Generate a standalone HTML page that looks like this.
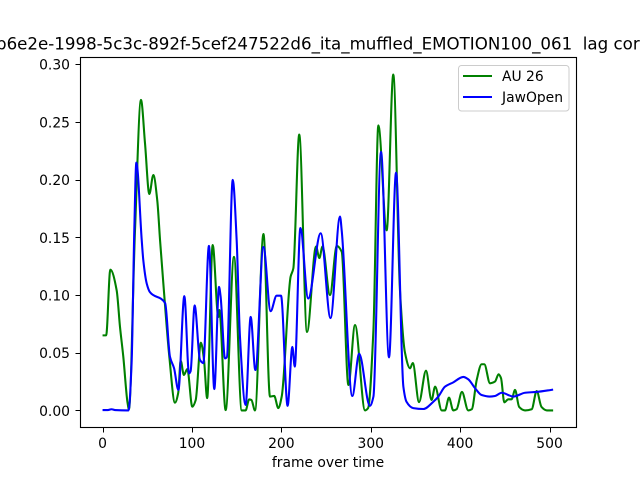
<!DOCTYPE html>
<html>
<head>
<meta charset="utf-8">
<style>
html,body{margin:0;padding:0;background:#fff;width:640px;height:480px;overflow:hidden}
svg{display:block;font-family:"DejaVu Sans",sans-serif}
</style>
</head>
<body>
<svg id="chart" width="640" height="480" viewBox="0 0 640 480" xmlns="http://www.w3.org/2000/svg">
<rect width="640" height="480" fill="#fff"/>
<text id="title" x="-4" y="49.3" font-size="16.67" fill="#000" xml:space="preserve">b6e2e-1998-5c3c-892f-5cef247522d6_ita_muffled_EMOTION100_061  lag cor</text>
<g id="series"></g>
<g id="axes"></g>
<rect x="80.5" y="57.5" width="496" height="370" fill="none" stroke="#000" stroke-width="1.11"/>
<text x="328" y="467" font-size="13.89" text-anchor="middle" fill="#000">frame over time</text>
<g>
<rect x="458.5" y="65.5" width="110.5" height="45.5" rx="3" fill="#fff" fill-opacity="0.8" stroke="#ccc" stroke-width="1"/>
<line x1="463" y1="76" x2="492" y2="76" stroke="#008000" stroke-width="2.08"/>
<text x="502" y="81" font-size="13.89" fill="#000">AU 26</text>
<line x1="463" y1="97" x2="492" y2="97" stroke="#0000ff" stroke-width="2.08"/>
<text x="502" y="102" font-size="13.89" fill="#000">JawOpen</text>
</g>
</svg>
<script>
const xTicks = [0, 100, 200, 300, 400, 500];
const yTicks = [0, 0.05, 0.10, 0.15, 0.20, 0.25, 0.30];
const yTickLabels = ["0.00", "0.05", "0.10", "0.15", "0.20", "0.25", "0.30"];

const au26Frames = [0,4,8.7,15.8,19.5,23.2,28,29.5,36.3,43,47.5,52.3,56.8,61.2,64.3,68,74.7,81,84.6,87.4,91,94.8,100.4,104.2,110,113.5,117,123.2,129.5,130.6,137.7,147,155.7,160,164,166.5,170.5,180,187.3,192,196.6,200.4,210.4,213.4,220,228.7,238.8,242.5,246,254.4,262,267.5,275,282.4,293.6,297,303,308.5,317.8,325.2,332.7,338.3,344,347,354,361.8,368,372,379.4,383,387.5,392.3,396,402,409,413,418.5,424,427,433.4,439,443,445.7,449.4,453.9,457.5,461.4,466,472.6,480,485.6,491,497,504];
const au26Values = [0.065,0.065,0.122,0.104,0.0725,0.0466,0.0064,0.001,0.156,0.269,0.2314,0.1875,0.204,0.182,0.1477,0.11,0.0465,0.0067,0.015,0.043,0.0307,0.0358,0.0032,0.009,0.0587,0.0437,0.0107,0.1433,0.081,0.087,0.0003,0.133,0,0,0.0095,0.009,0,0.1528,0.012,0.0125,0.002,0.012,0.116,0.123,0.239,0.068,0.142,0.132,0.142,0.1,0.1425,0.1375,0.022,0.074,0,0.002,0.07,0.247,0.156,0.291,0.104,0.05,0.0365,0.041,0.0072,0.0344,0.009,0.0206,0,0,0.011,0,0.001,0.016,0,0.001,0.0263,0.04,0.04,0.0235,0.025,0.0313,0.028,0.007,0.0096,0.0096,0.0177,0.003,0,0.001,0.0168,0.003,0,0];

const jawFrames = [0,6,10,14,29,32.5,35.5,37.8,43.8,45.6,49.4,53,70,75.4,80,84.8,91.5,96.7,98.5,103,109,112.7,119,125,130.3,132,137,139,145.6,150,153.7,160,165.7,170.9,180,188,194.7,199.6,207,212.3,215,221.3,230,244,255,265.6,267.5,279.4,287,299,303,311.5,320.4,328.3,336.5,340,347.6,358.8,370,375.6,383,392.3,403.5,409,416.6,424,433,439,446.5,459.5,472.6,485.6,504];
const jawValues = [0.0003,0.0003,0.001,0.0003,0,0.041,0.156,0.2147,0.1477,0.13,0.11,0.1025,0.093,0.0465,0.0365,0.0177,0.099,0.032,0.034,0.091,0.0437,0.041,0.1425,0.0185,0.107,0.099,0.045,0.046,0.1997,0.1477,0.064,0.0047,0.081,0.035,0.1416,0.086,0.0994,0.0994,0.004,0.055,0.038,0.158,0.097,0.1535,0.08,0.168,0.156,0.0125,0.049,0.004,0.012,0.224,0.046,0.206,0.0205,0.0075,0.002,0.0012,0.0075,0.012,0.0205,0.0243,0.029,0.027,0.0193,0.0133,0.012,0.0125,0.0153,0.012,0.0153,0.016,0.018];

const SVGNS = "http://www.w3.org/2000/svg";
function xScale(v) { return 102.55 + v * 0.894; }
function yScale(v) { return 410.4 - v * 1154; }

// Monotone cubic path through the sampled points, so peaks stay at their read values.
function linePath(xs, ys) {
  const px = xs.map(xScale), py = ys.map(yScale), n = px.length;
  const d = [], m = new Array(n);
  for (let i = 0; i < n - 1; i++) d.push((py[i + 1] - py[i]) / (px[i + 1] - px[i]));
  m[0] = d[0];
  m[n - 1] = d[n - 2];
  for (let i = 1; i < n - 1; i++) {
    if (d[i - 1] * d[i] <= 0) { m[i] = 0; continue; }
    const a = px[i] - px[i - 1], b = px[i + 1] - px[i];
    m[i] = 3 * (a + b) / ((2 * b + a) / d[i - 1] + (b + 2 * a) / d[i]);
  }
  let s = "M" + px[0].toFixed(2) + " " + py[0].toFixed(2);
  for (let i = 0; i < n - 1; i++) {
    const h = (px[i + 1] - px[i]) / 3;
    s += "C" + (px[i] + h).toFixed(2) + " " + (py[i] + m[i] * h).toFixed(2) + " " +
      (px[i + 1] - h).toFixed(2) + " " + (py[i + 1] - m[i + 1] * h).toFixed(2) + " " +
      px[i + 1].toFixed(2) + " " + py[i + 1].toFixed(2);
  }
  return s;
}

const seriesGroup = document.getElementById("series");
const axesGroup = document.getElementById("axes");

const au26Line = document.createElementNS(SVGNS, "path");


au26Line.setAttribute("d", linePath(au26Frames, au26Values));
au26Line.setAttribute("fill", "none");
au26Line.setAttribute("stroke", "#008000");
au26Line.setAttribute("stroke-width", "2.08");
au26Line.setAttribute("stroke-linejoin", "round");
seriesGroup.appendChild(au26Line);

const jawLine = document.createElementNS(SVGNS, "path");


jawLine.setAttribute("d", linePath(jawFrames, jawValues));
jawLine.setAttribute("fill", "none");
jawLine.setAttribute("stroke", "#0000ff");
jawLine.setAttribute("stroke-width", "2.08");
jawLine.setAttribute("stroke-linejoin", "round");
seriesGroup.appendChild(jawLine);

xTicks.forEach(function (t) {
  const x = Math.round(xScale(t)) + 0.5;
  const tick = document.createElementNS(SVGNS, "line");
  
  
  tick.setAttribute("x1", x);
  tick.setAttribute("x2", x);
  tick.setAttribute("y1", 427.5);
  tick.setAttribute("y2", 432.5);
  tick.setAttribute("stroke", "#000");
  axesGroup.appendChild(tick);
  const label = document.createElementNS(SVGNS, "text");
  
  
  label.setAttribute("x", xScale(t));
  label.setAttribute("y", 448);
  label.setAttribute("font-size", "13.89");
  label.setAttribute("text-anchor", "middle");
  label.textContent = String(t);
  axesGroup.appendChild(label);
});

yTicks.forEach(function (t, i) {
  const y = Math.round(yScale(t)) + 0.5;
  const tick = document.createElementNS(SVGNS, "line");
  
  
  tick.setAttribute("x1", 75.5);
  tick.setAttribute("x2", 80.5);
  tick.setAttribute("y1", y);
  tick.setAttribute("y2", y);
  tick.setAttribute("stroke", "#000");
  axesGroup.appendChild(tick);
  const label = document.createElementNS(SVGNS, "text");
  
  
  label.setAttribute("x", 70);
  label.setAttribute("y", yScale(t) + 5.5);
  label.setAttribute("font-size", "13.89");
  label.setAttribute("text-anchor", "end");
  label.textContent = yTickLabels[i];
  axesGroup.appendChild(label);
});
</script>
</body>
</html>
